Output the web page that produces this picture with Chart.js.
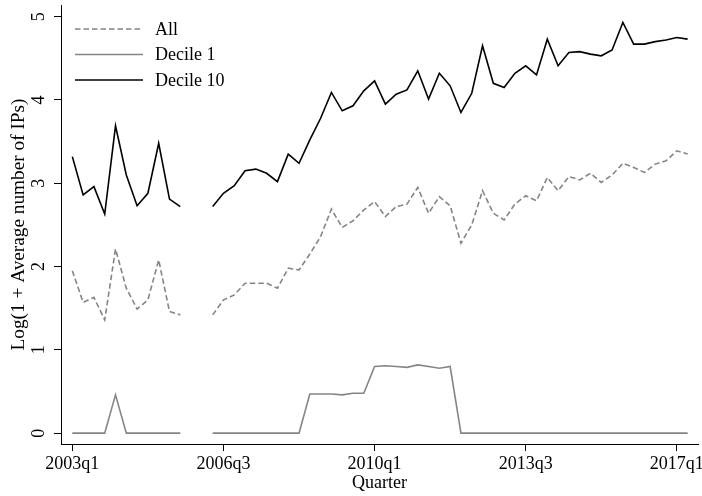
<!DOCTYPE html>
<html>
<head>
<meta charset="utf-8">
<script src="https://cdn.jsdelivr.net/npm/chart.js@4/dist/chart.umd.min.js"></script>
<style>
  html, body { margin: 0; padding: 0; background: #ffffff; }
  #wrap { width: 702px; height: 496px; position: relative; }
</style>
</head>
<body>
<div id="wrap"><canvas id="c" width="702" height="496"></canvas></div>
<script>
const quarters = [
  "2003q1","2003q2","2003q3","2003q4","2004q1","2004q2","2004q3","2004q4",
  "2005q1","2005q2","2005q3","2005q4","2006q1","2006q2","2006q3","2006q4",
  "2007q1","2007q2","2007q3","2007q4","2008q1","2008q2","2008q3","2008q4",
  "2009q1","2009q2","2009q3","2009q4","2010q1","2010q2","2010q3","2010q4",
  "2011q1","2011q2","2011q3","2011q4","2012q1","2012q2","2012q3","2012q4",
  "2013q1","2013q2","2013q3","2013q4","2014q1","2014q2","2014q3","2014q4",
  "2015q1","2015q2","2015q3","2015q4","2016q1","2016q2","2016q3","2016q4",
  "2017q1","2017q2"
];
const tickLabels = ["2003q1","2006q3","2010q1","2013q3","2017q1"];
const yTicks = [0, 1, 2, 3, 4, 5];

const allValues = [
  1.95,1.57,1.63,1.36,2.21,1.74,1.49,1.60,2.08,1.46,1.42,
  null,null,
  1.42,1.60,1.66,1.80,1.80,1.80,1.74,1.98,1.96,2.15,2.36,2.69,2.47,2.55,2.68,
  2.78,2.60,2.72,2.75,2.95,2.64,2.84,2.73,2.28,2.50,2.91,2.64,2.56,2.75,2.85,
  2.79,3.07,2.91,3.08,3.04,3.12,3.01,3.10,3.24,3.19,3.13,3.23,3.27,3.39,3.35
];
const decile1Values = [
  0,0,0,0,0.46,0,0,0,0,0,0,
  null,null,
  0,0,0,0,0,0,0,0,0,0.47,0.47,0.47,0.46,0.48,0.48,
  0.80,0.81,0.80,0.79,0.82,0.80,0.78,0.80,0,0,0,0,0,0,0,
  0,0,0,0,0,0,0,0,0,0,0,0,0,0,0
];
const decile10Values = [
  3.32,2.86,2.96,2.63,3.69,3.10,2.73,2.88,3.48,2.81,2.72,
  null,null,
  2.72,2.88,2.97,3.15,3.17,3.12,3.02,3.35,3.24,3.52,3.78,4.09,3.87,3.93,4.11,
  4.23,3.95,4.07,4.12,4.35,4.01,4.32,4.17,3.85,4.08,4.65,4.20,4.15,4.32,4.41,
  4.30,4.73,4.41,4.57,4.58,4.55,4.53,4.60,4.93,4.67,4.67,4.70,4.72,4.75,4.73
];

const FONT = "'Liberation Serif', 'Times New Roman', serif";
const GRAY = '#858585';

function toPoints(vals) {
  return vals.map((v, i) => ({ x: i, y: v }));
}

const legendPlugin = {
  id: 'insideLegend',
  afterDraw(chart) {
    const ctx = chart.ctx;
    const area = chart.chartArea;
    const x0 = area.left + 14, x1 = area.left + 82, tx = area.left + 94;
    const rows = [area.top + 24, area.top + 49.5, area.top + 75];
    ctx.save();
    ctx.font = '18px ' + FONT;
    ctx.textBaseline = 'middle';
    ctx.textAlign = 'left';
    chart.data.datasets.forEach((ds, i) => {
      const y = rows[i];
      ctx.beginPath();
      ctx.strokeStyle = ds.borderColor;
      ctx.lineWidth = ds.borderWidth;
      ctx.setLineDash(ds.borderDash || []);
      ctx.moveTo(x0, y);
      ctx.lineTo(x1, y);
      ctx.stroke();
      ctx.setLineDash([]);
      ctx.fillStyle = '#000';
      ctx.fillText(ds.label, tx, y + 1);
    });
    ctx.restore();
  }
};

new Chart(document.getElementById('c'), {
  type: 'line',
  data: {
    datasets: [
      { label: 'All', data: toPoints(allValues), borderColor: GRAY, borderWidth: 1.6, borderDash: [5.5, 3], pointRadius: 0, tension: 0, spanGaps: false, fill: false },
      { label: 'Decile 1', data: toPoints(decile1Values), borderColor: GRAY, borderWidth: 1.6, pointRadius: 0, tension: 0, spanGaps: false, fill: false },
      { label: 'Decile 10', data: toPoints(decile10Values), borderColor: '#000000', borderWidth: 1.6, pointRadius: 0, tension: 0, spanGaps: false, fill: false }
    ]
  },
  options: {
    responsive: false,
    animation: false,
    layout: { padding: { top: 5, right: 4, left: 0, bottom: 0 } },
    plugins: { legend: { display: false }, tooltip: { enabled: false } },
    scales: {
      x: {
        type: 'linear',
        min: -1.05,
        max: 57.96,
        afterBuildTicks(scale) {
          scale.ticks = tickLabels.map(l => ({ value: quarters.indexOf(l) }));
        },
        afterFit(scale) { scale.height = 52; scale.paddingLeft = 0; scale.paddingRight = 0; },
        ticks: {
          callback: (v) => quarters[v],
          font: { family: FONT, size: 18 },
          color: '#000',
          padding: 2,
          maxRotation: 0,
          minRotation: 0,
          autoSkip: false
        },
        grid: { drawOnChartArea: false, drawTicks: true, tickLength: 7, tickColor: '#000', tickWidth: 1 },
        border: { display: true, color: '#000', width: 1 },
        title: { display: true, text: 'Quarter', font: { family: FONT, size: 18 }, color: '#000', padding: { top: 0, bottom: 2 } }
      },
      y: {
        type: 'linear',
        min: -0.13,
        max: 5.14,
        afterBuildTicks(scale) {
          scale.ticks = yTicks.map(v => ({ value: v }));
        },
        afterFit(scale) { scale.width = 61; scale.paddingTop = 0; scale.paddingBottom = 0; },
        ticks: {
          font: { family: FONT, size: 18 },
          color: '#000',
          padding: 10.5,
          minRotation: 90,
          maxRotation: 90,
          crossAlign: 'center',
          autoSkip: false
        },
        grid: { drawOnChartArea: false, drawTicks: true, tickLength: 7, tickColor: '#000', tickWidth: 1 },
        border: { display: true, color: '#000', width: 1 },
        title: { display: true, text: 'Log(1 + Average number of IPs)', font: { family: FONT, size: 19.3 }, color: '#000', padding: { top: 7, bottom: 0 } }
      }
    }
  },
  plugins: [legendPlugin]
});
</script>
</body>
</html>
